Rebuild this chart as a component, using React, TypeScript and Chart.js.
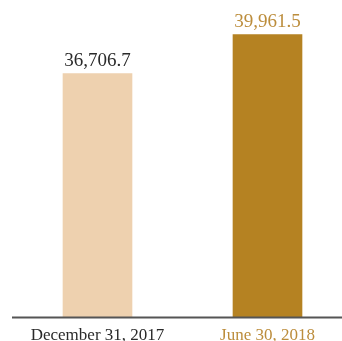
import React, { useEffect, useRef } from "react";
import { Chart, registerables } from "chart.js";

Chart.register(...registerables);

const categories = ["December 31, 2017", "June 30, 2018"];
const values = [36706.7, 39961.5];
const barColors = ["#EED1AF", "#B58222"];
const labelColors = ["#2a2a2a", "#BC8D3C"];
const tickColors = ["#2a2a2a", "#BC8D3C"];
const yMin = 16400;
const yMax = 40000;

const FONT = "'Liberation Serif', 'Times New Roman', serif";

const fmt = (v: number) =>
  v.toLocaleString("en-US", { minimumFractionDigits: 1, maximumFractionDigits: 1 });

const extrasPlugin = {
  id: "extras",
  afterDatasetsDraw(chart: any) {
    const ctx = chart.ctx;
    const meta = chart.getDatasetMeta(0);
    ctx.save();
    ctx.fillStyle = "#555555";
    ctx.fillRect(12, chart.chartArea.bottom - 0.5, 330, 2);
    ctx.font = `19px ${FONT}`;
    ctx.textAlign = "center";
    ctx.textBaseline = "alphabetic";
    meta.data.forEach((bar: any, i: number) => {
      ctx.fillStyle = labelColors[i];
      ctx.fillText(fmt(values[i]), bar.x, bar.y - 7);
    });
    ctx.restore();
  },
};

export default function App() {
  const ref = useRef<HTMLCanvasElement | null>(null);
  useEffect(() => {
    if (!ref.current) return;
    const chart = new Chart(ref.current, {
      type: "bar",
      data: {
        labels: categories,
        datasets: [
          {
            data: values,
            backgroundColor: barColors,
            borderWidth: 0,
            barThickness: 69,
            base: yMin,
            clip: false as any,
          } as any,
        ],
      },
      options: {
        responsive: false,
        animation: false,
        layout: { padding: { left: 97.5, right: 74.5, top: 34, bottom: 0 } },
        plugins: { legend: { display: false }, tooltip: { enabled: false } },
        scales: {
          x: {
            offset: false,
            grid: { display: false, drawTicks: false },
            border: { display: false },
            ticks: {
              padding: 8,
              color: tickColors,
              font: { family: FONT, size: 17 },
              maxRotation: 0,
              autoSkip: false,
            },
            afterFit: (scale: any) => {
              scale.height = 24;
            },
          },
          y: {
            display: false,
            min: yMin,
            max: yMax,
          },
        },
      },
      plugins: [extrasPlugin],
    });
    return () => chart.destroy();
  }, []);
  return (
    <div style={{ position: "absolute", left: 0, top: 0, width: 342, height: 341, background: "#fff" }}>
      <canvas ref={ref} width={342} height={341} style={{ width: 342, height: 341 }} />
    </div>
  );
}
